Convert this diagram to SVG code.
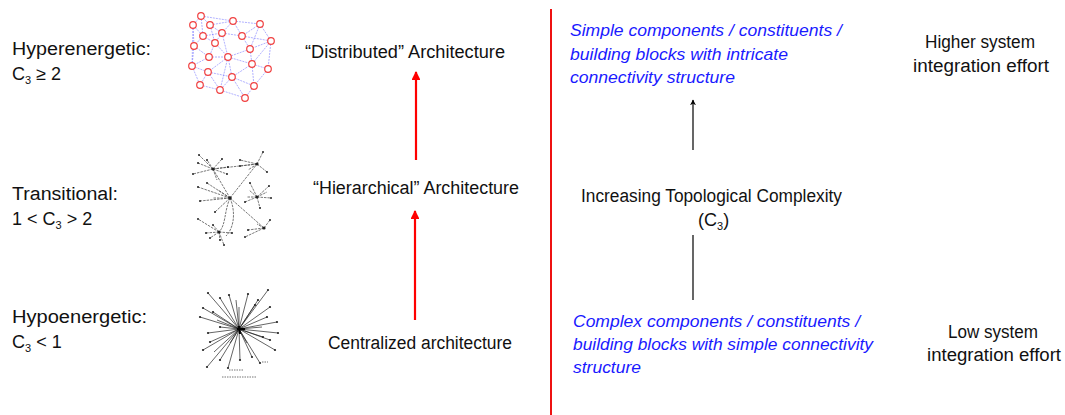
<svg xmlns="http://www.w3.org/2000/svg" width="1065" height="415" viewBox="0 0 1065 415">
<defs>
<style>
.t{font-family:"Liberation Sans",Arial,sans-serif;font-size:18px;fill:#111}
.b{font-family:"Liberation Sans",Arial,sans-serif;font-size:17px;font-style:italic;fill:#1a1aff}
.sub{font-size:11px}
.rn{fill:#fff;stroke:#f04040;stroke-width:1.2}
.be{stroke:#6a6aff;stroke-width:0.7;stroke-opacity:0.75;fill:none;stroke-dasharray:2 1}
.he{stroke:#555;stroke-width:0.8;fill:none;stroke-dasharray:2.5 1}
.ce{stroke:#222;stroke-width:0.7;fill:none}
.dot{fill:#222}
</style>
<marker id="ar" viewBox="0 0 10 10" refX="9" refY="5" markerWidth="4" markerHeight="4" orient="auto"><path d="M0,0 L10,5 L0,10 Z" fill="#ff0000"/></marker>
<marker id="ab" viewBox="0 0 10 10" refX="9" refY="5" markerWidth="5" markerHeight="5" orient="auto"><path d="M0,0 L10,5 L0,10 L3,5 Z" fill="#000"/></marker>
</defs>
<rect width="1065" height="415" fill="#fff"/>

<g id="labels-left">
<text class="t" x="12" y="55" textLength="139" lengthAdjust="spacingAndGlyphs">Hyperenergetic:</text>
<text class="t" x="12" y="80">C<tspan class="sub" dy="4">3</tspan><tspan dy="-4"> ≥ 2</tspan></text>
<text class="t" x="12" y="200" textLength="106" lengthAdjust="spacingAndGlyphs">Transitional:</text>
<text class="t" x="12" y="225">1 &lt; C<tspan class="sub" dy="4">3</tspan><tspan dy="-4"> &gt; 2</tspan></text>
<text class="t" x="12" y="323" textLength="135" lengthAdjust="spacingAndGlyphs">Hypoenergetic:</text>
<text class="t" x="12" y="348">C<tspan class="sub" dy="4">3</tspan><tspan dy="-4"> &lt; 1</tspan></text>
</g>

<g id="net-distributed">
<path class="be" d="M201,16L193,25M201,16L210,25M201,16L233,21M201,16L203,36M193,25L194,46M193,25L203,36M193,25L192,66M210,25L233,21M210,25L222,33M210,25L215,43M233,21L260,24M233,21L222,33M233,21L242,36M260,24L242,36M260,24L271,41M260,24L250,49M203,36L194,46M203,36L215,43M203,36L222,33M222,33L242,36M222,33L215,43M222,33L228,57M242,36L250,49M242,36L271,41M271,41L250,49M271,41L268,69M271,41L252,64M194,46L209,57M194,46L192,66M215,43L228,57M215,43L209,57M250,49L252,64M250,49L228,57M209,57L228,57M209,57L192,66M228,57L252,64M228,57L232,77M228,57L208,72M228,57L220,90M192,66L208,72M192,66L200,85M208,72L200,85M208,72L220,90M252,64L268,69M252,64L232,77M252,64L254,86M268,69L254,86M232,77L220,90M232,77L254,86M232,77L245,98M200,85L220,90M220,90L245,98M254,86L245,98M208,72L232,77"/>
<g>
<circle class="rn" cx="201" cy="16" r="3.3"/><circle class="rn" cx="193" cy="25" r="3.3"/><circle class="rn" cx="210" cy="25" r="3.3"/><circle class="rn" cx="233" cy="21" r="3.3"/><circle class="rn" cx="260" cy="24" r="3.3"/><circle class="rn" cx="203" cy="36" r="3.3"/><circle class="rn" cx="222" cy="33" r="3.3"/><circle class="rn" cx="242" cy="36" r="3.3"/><circle class="rn" cx="271" cy="41" r="3.3"/><circle class="rn" cx="194" cy="46" r="3.3"/><circle class="rn" cx="215" cy="43" r="3.3"/><circle class="rn" cx="250" cy="49" r="3.3"/><circle class="rn" cx="209" cy="57" r="3.3"/><circle class="rn" cx="228" cy="57" r="3.3"/><circle class="rn" cx="192" cy="66" r="3.3"/><circle class="rn" cx="208" cy="72" r="3.3"/><circle class="rn" cx="252" cy="64" r="3.3"/><circle class="rn" cx="268" cy="69" r="3.3"/><circle class="rn" cx="232" cy="77" r="3.3"/><circle class="rn" cx="200" cy="85" r="3.3"/><circle class="rn" cx="220" cy="90" r="3.3"/><circle class="rn" cx="254" cy="86" r="3.3"/><circle class="rn" cx="245" cy="98" r="3.3"/>
</g>
</g>

<g id="net-hierarchical">
<path class="he" d="M213,169L199,155M213,169L207,160M213,169L222,159M213,169L193,174M213,169L228,167M213,169L227,174M213,169L217,180M213,169L198,163M213,169L257,164M257,164L263,152M257,164L240,160M257,164L267,172M257,164L240,166M257,164L248,170M230,198L257,164M230,198L207,183M230,198L198,187M230,198L200,201M230,198L213,198M230,198L218,190M230,198L215,212M230,198L213,169M230,198L264,228M257,197L269,186M257,197L250,183M257,197L267,192M257,197L247,197M257,197L245,202M257,197L271,198M257,197L260,208M257,197L249,190M264,228L270,220M264,228L248,230M264,228L245,237M264,228L257,224M219,232L206,233M219,232L213,225M219,232L220,240M219,232L232,233M219,232L210,238M219,232L198,219M219,232L224,245"/>
<path class="he" d="M230,198C224,212 226,225 219,232M230,198C236,212 234,228 226,236" stroke-dasharray="none"/>
<g class="dot">
<circle cx="213" cy="169" r="1.6"/><circle cx="257" cy="164" r="1.6"/><circle cx="230" cy="198" r="1.8"/><circle cx="257" cy="197" r="1.6"/><circle cx="264" cy="228" r="1.6"/><circle cx="219" cy="232" r="1.6"/>
<circle cx="199" cy="155" r="1"/><circle cx="207" cy="160" r="1"/><circle cx="222" cy="159" r="1"/><circle cx="193" cy="174" r="1"/><circle cx="228" cy="167" r="1"/><circle cx="227" cy="174" r="1"/><circle cx="198" cy="163" r="1"/><circle cx="263" cy="152" r="1"/><circle cx="240" cy="160" r="1"/><circle cx="267" cy="172" r="1"/><circle cx="240" cy="166" r="1"/><circle cx="207" cy="183" r="1"/><circle cx="198" cy="187" r="1"/><circle cx="200" cy="201" r="1"/><circle cx="215" cy="212" r="1"/><circle cx="269" cy="186" r="1"/><circle cx="250" cy="183" r="1"/><circle cx="271" cy="198" r="1"/><circle cx="245" cy="202" r="1"/><circle cx="260" cy="208" r="1"/><circle cx="270" cy="220" r="1"/><circle cx="248" cy="230" r="1"/><circle cx="245" cy="237" r="1"/><circle cx="206" cy="233" r="1"/><circle cx="213" cy="225" r="1"/><circle cx="232" cy="233" r="1"/><circle cx="210" cy="238" r="1"/><circle cx="198" cy="219" r="1"/><circle cx="224" cy="245" r="1"/><circle cx="220" cy="240" r="1"/>
</g>
</g>

<g id="net-centralized">
<path class="ce" d="M239,329L208,293M239,329L229,295M239,329L248,294M239,329L268,290M239,329L258,300M239,329L203,308M239,329L213,312M239,329L220,298M239,329L200,317M239,329L208,333M239,329L220,327M239,329L210,342M239,329L203,350M239,329L207,367M239,329L220,360M239,329L228,368M239,329L240,360M239,329L252,357M239,329L260,363M239,329L275,350M239,329L270,340M239,329L278,333M239,329L263,337M239,329L277,322M239,329L267,317M239,329L270,307M239,329L255,305M239,329L239,307M239,329L230,343M239,329L247,343M239,329L214,352M239,329L236,300M239,329L262,327M239,329L217,320"/>
<path d="M237,329L245,329M239,326L240,334" stroke="#000" stroke-width="2"/>
<g class="dot">
<circle cx="208" cy="293" r="1.1"/><circle cx="229" cy="295" r="1.1"/><circle cx="248" cy="294" r="1.1"/><circle cx="268" cy="290" r="1.1"/><circle cx="258" cy="300" r="1.1"/><circle cx="203" cy="308" r="1.1"/><circle cx="213" cy="312" r="1.1"/><circle cx="220" cy="298" r="1.1"/><circle cx="200" cy="317" r="1.1"/><circle cx="208" cy="333" r="1.1"/><circle cx="220" cy="327" r="1.1"/><circle cx="210" cy="342" r="1.1"/><circle cx="203" cy="350" r="1.1"/><circle cx="207" cy="367" r="1.1"/><circle cx="220" cy="360" r="1.1"/><circle cx="228" cy="368" r="1.1"/><circle cx="240" cy="360" r="1.1"/><circle cx="252" cy="357" r="1.1"/><circle cx="260" cy="363" r="1.1"/><circle cx="275" cy="350" r="1.1"/><circle cx="270" cy="340" r="1.1"/><circle cx="278" cy="333" r="1.1"/><circle cx="263" cy="337" r="1.1"/><circle cx="277" cy="322" r="1.1"/><circle cx="267" cy="317" r="1.1"/><circle cx="270" cy="307" r="1.1"/><circle cx="255" cy="305" r="1.1"/>
</g>
<path d="M262,362H268M229,370H243M222,377H257" stroke="#777" stroke-width="1" stroke-dasharray="1.5 1"/>
</g>

<g id="labels-mid">
<text class="t" x="305" y="58" textLength="200" lengthAdjust="spacingAndGlyphs">“Distributed” Architecture</text>
<text class="t" x="313" y="194" textLength="206" lengthAdjust="spacingAndGlyphs">“Hierarchical” Architecture</text>
<text class="t" x="328" y="349" textLength="184" lengthAdjust="spacingAndGlyphs">Centralized architecture</text>
</g>

<g id="connectors">
<line x1="416" y1="160" x2="416" y2="72" stroke="#ff0000" stroke-width="2.2" marker-end="url(#ar)"/>
<line x1="415" y1="320" x2="415" y2="211" stroke="#ff0000" stroke-width="2.2" marker-end="url(#ar)"/>
<line x1="551" y1="9" x2="551" y2="415" stroke="#ee1111" stroke-width="2"/>
<line x1="693" y1="150" x2="693" y2="100" stroke="#000" stroke-width="1.2" marker-end="url(#ab)"/>
<line x1="693" y1="235" x2="693" y2="300" stroke="#000" stroke-width="1.2"/>
</g>

<g id="text-upper-right">
<text class="b" x="570" y="36" textLength="272" lengthAdjust="spacingAndGlyphs">Simple components / constituents /</text>
<text class="b" x="570" y="60" textLength="218" lengthAdjust="spacingAndGlyphs">building blocks with intricate</text>
<text class="b" x="570" y="83" textLength="165" lengthAdjust="spacingAndGlyphs">connectivity structure</text>
</g>

<g id="text-center-right">
<text class="t" x="581" y="202" textLength="261" lengthAdjust="spacingAndGlyphs">Increasing Topological Complexity</text>
<text class="t" x="698" y="226">(C<tspan class="sub" dy="4">3</tspan><tspan dy="-4">)</tspan></text>
</g>

<g id="text-lower-right">
<text class="b" x="573" y="327" textLength="287" lengthAdjust="spacingAndGlyphs">Complex components / constituents /</text>
<text class="b" x="573" y="350" textLength="300" lengthAdjust="spacingAndGlyphs">building blocks with simple connectivity</text>
<text class="b" x="573" y="373" textLength="68" lengthAdjust="spacingAndGlyphs">structure</text>
</g>

<g id="effort-high">
<text class="t" x="925" y="48" textLength="110" lengthAdjust="spacingAndGlyphs">Higher system</text>
<text class="t" x="913" y="72" textLength="136" lengthAdjust="spacingAndGlyphs">integration effort</text>
</g>
<g id="effort-low">
<text class="t" x="948" y="338" textLength="90" lengthAdjust="spacingAndGlyphs">Low system</text>
<text class="t" x="927" y="361" textLength="134" lengthAdjust="spacingAndGlyphs">integration effort</text>
</g>
</svg>
